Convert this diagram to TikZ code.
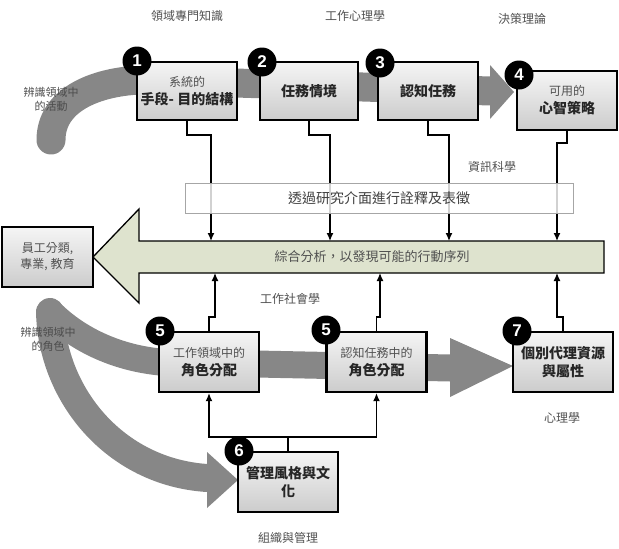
\documentclass[tikz,border=0pt]{standalone}
\usepackage{fontspec}
\setmainfont{Noto Sans CJK TC}
\newfontfamily\numfont{Liberation Sans}
\usetikzlibrary{arrows.meta}
\definecolor{band}{RGB}{135,135,135}
\definecolor{arrowfill}{RGB}{222,227,206}
\definecolor{lbl}{RGB}{80,80,80}
\tikzset{
  box/.style={draw=black, line width=2.4pt, top color=gray!8, bottom color=gray!40,
    minimum width=100pt, minimum height=58pt, inner sep=2pt, align=center,
    font=\fontsize{14}{18}\selectfont\bfseries, text=black!85},
  num/.style={circle, fill=black, text=white, font=\numfont\bfseries\fontsize{17}{17}\selectfont,
    minimum size=29pt, inner sep=0pt},
  lab/.style={text=lbl, font=\fontsize{12}{14}\selectfont, align=center},
  conn/.style={line width=1.2pt, -{Latex[length=8pt,width=7pt]}},
  plain/.style={line width=1.2pt},
  bandline/.style={draw=band, line width=29pt},
  bandhead/.style={fill=band},
}
\newcommand{\lite}[1]{{\mdseries\color{lbl}\fontsize{12}{15}\selectfont #1}}
\begin{document}
\begin{tikzpicture}[x=1pt,y=-1pt]
\useasboundingbox (0,0) rectangle (619,549);

% ---- grey process bands ----
\draw[bandline, line cap=round] (51,140) .. controls (51,100) and (95,82) .. (140,80) -- (490,91);
\fill[bandhead] (490,65) -- (514,92) -- (490,119) -- cycle;
\draw[bandline, line width=27pt, line cap=round] (50,312) .. controls (80,342) and (120,358) .. (160,362) -- (450,368);
\fill[bandhead] (450,338) -- (513,366) -- (450,397) -- cycle;
\draw[bandline, line width=28pt, line cap=round] (50,312) .. controls (52,395) and (115,472) .. (207,478);
\fill[bandhead] (207,452) -- (238,480) -- (207,508) -- cycle;

% ---- big left arrow ----
\draw[fill=arrowfill, line width=1.3pt, line join=miter]
  (93,257) -- (139,209) -- (139,241) -- (604,241) -- (604,273) -- (139,273) -- (139,303) -- cycle;
\node[text=lbl, font=\fontsize{13}{15}\selectfont] (syn) at (372,257) {綜合分析，以發現可能的行動序列};
\coordinate (t1) at (211,241);
\coordinate (t2) at (330,241);
\coordinate (t3) at (449,241);
\coordinate (t4) at (557,241);
\coordinate (u1) at (215,273);
\coordinate (u2) at (380,273);
\coordinate (u3) at (557,273);

% ---- boxes ----
\node[box] (B1) at (187,91) {\lite{系統的}\\手段- 目的結構};
\node[box, minimum width=98pt] (B2) at (309,91) {任務情境};
\node[box] (B3) at (428,91) {認知任務};
\node[box, minimum height=59pt] (B4) at (567,100.5) {\lite{可用的}\\心智策略};
\node[box, minimum height=60pt] (B5a) at (209,362) {\lite{工作領域中的}\\角色分配};
\node[box, minimum height=60pt] (B5b) at (376.5,362) {\lite{認知任務中的}\\角色分配};
\node[box, minimum height=60pt] (B7) at (563,362) {個別代理資源\\與屬性};
\node[box, minimum height=60pt] (B6) at (288,482) {管理風格與文\\化};
\node[box, minimum width=91pt, minimum height=60pt, font=\fontsize{12}{16}\selectfont, text=lbl]
  (BE) at (47.5,257) {員工分類,\\專業, 教育};

% ---- number badges ----
\node[num] (n1) at (137,61) {1};
\node[num] (n2) at (262,62) {2};
\node[num] (n3) at (380,63) {3};
\node[num] (n4) at (519,75) {4};
\node[num] (n5a) at (160,331) {5};
\node[num] (n5b) at (326,330) {5};
\node[num] (n7) at (517,331) {7};
\node[num] (n6) at (239,451) {6};

% ---- connectors ----
\draw[conn] (B1.south) -- (B1.south |- 0,135) -| (t1);
\draw[conn] (B2.south) -- (B2.south |- 0,135) -| (t2);
\draw[conn] (B3.south) -- (B3.south |- 0,135) -| (t3);
\draw[conn] (B4.south) -- (B4.south |- 0,143) -| (t4);
\draw[conn] (B5a.north) -- (B5a.north |- 0,317) -| (u1);
\draw[conn] (B5b.north) -- (B5b.north |- 0,317) -| (u2);
\draw[conn] (B7.north) -- (B7.north |- 0,317) -| (u3);
\coordinate (h6) at (B6.north |- 0,437);
\draw[plain] (B6.north) -- (h6);
\draw[conn] (h6) -| (B5a.south);
\draw[conn] (h6) -| (B5b.south);

% ---- interface box (over the lines, translucent) ----
\node[draw=gray!70, line width=0.8pt, fill=white, fill opacity=0.82, text opacity=1,
  minimum width=388pt, minimum height=30pt, inner sep=0pt,
  text=black!75, font=\fontsize{14}{16}\selectfont] (ifc) at (379,198) {透過研究介面進行詮釋及表徵};

% ---- discipline labels ----
\node[lab] (l1) at (187,16) {領域專門知識};
\node[lab] (l2) at (355,16) {工作心理學};
\node[lab] (l3) at (522,19) {決策理論};
\node[lab] (l4) at (492,167) {資訊科學};
\node[lab] (l5) at (290,299) {工作社會學};
\node[lab] (l6) at (562,418) {心理學};
\node[lab] (l7) at (288,538) {組織與管理};
\node[lab, font=\fontsize{11}{14}\selectfont, text=black!70] (l8) at (51,99) {辨識領域中\\的活動};
\node[lab, font=\fontsize{11}{14}\selectfont, text=black!70] (l9) at (48,339) {辨識領域中\\的角色};
\end{tikzpicture}
\end{document}
